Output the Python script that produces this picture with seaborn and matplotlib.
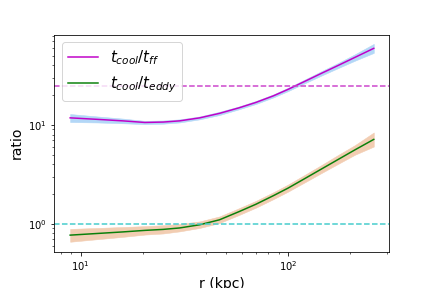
import numpy as np
import pandas as pd
import matplotlib
matplotlib.use("Agg")
import matplotlib.pyplot as plt
import seaborn as sns

# radii (kpc) and profile values
r_kpc = [8.9, 12, 16, 20.4, 25, 30, 37.5, 46.7, 58, 70, 85, 100, 120, 145, 175, 210, 259]

ratio_ff = [11.8, 11.4, 11.0, 10.6, 10.7, 11.0, 11.8, 13.1, 14.9, 16.9, 19.7, 22.9,
            27.5, 33.3, 40.1, 48.2, 59.5]
ff_lo = [10.7, 10.6, 10.4, 10.2, 10.3, 10.6, 11.4, 12.6, 14.4, 16.3, 19.0, 22.0,
         26.3, 31.6, 37.7, 44.6, 53.5]
ff_hi = [12.9, 12.2, 11.6, 11.0, 11.1, 11.4, 12.2, 13.6, 15.4, 17.5, 20.4, 23.8,
         28.7, 35.0, 42.5, 51.8, 66.0]

ratio_eddy = [0.77, 0.80, 0.83, 0.86, 0.88, 0.91, 0.98, 1.10, 1.33, 1.58, 1.93, 2.30,
              2.86, 3.59, 4.50, 5.60, 7.15]
eddy_lo = [0.66, 0.70, 0.74, 0.78, 0.80, 0.84, 0.91, 1.02, 1.23, 1.46, 1.78, 2.12,
           2.62, 3.27, 4.06, 5.00, 6.05]
eddy_hi = [0.89, 0.91, 0.93, 0.95, 0.97, 1.00, 1.06, 1.19, 1.44, 1.71, 2.09, 2.50,
           3.12, 3.94, 5.00, 6.25, 8.40]

ff_level = 25.0
eddy_level = 1.0

df = pd.DataFrame({"r": r_kpc, "ff": ratio_ff, "eddy": ratio_eddy})

fig = plt.figure(figsize=(6, 4), dpi=72)
ax = fig.add_axes([0.125, 0.125, 0.775, 0.755])

# scatter bands
ax.fill_between(df["r"], ff_lo, ff_hi, color="#b3d7f7", lw=0.5)
ax.fill_between(df["r"], eddy_lo, eddy_hi, color="#f2cdb2", lw=0.5)

sns.lineplot(data=df, x="r", y="ff", ax=ax, color="#c000c8", lw=1.5,
             label=r"$t_{cool}/t_{ff}$")
sns.lineplot(data=df, x="r", y="eddy", ax=ax, color="#0a800a", lw=1.5,
             label=r"$t_{cool}/t_{eddy}$")

# reference levels
ax.axhline(ff_level, color="#cc44cc", ls="--", lw=1.5)
ax.axhline(eddy_level, color="#44cccc", ls="--", lw=1.5)

ax.set_xscale("log")
ax.set_yscale("log")
ax.set_xlim(7.44, 306)
ax.set_ylim(0.52, 82)

ax.set_xlabel("r (kpc)", fontsize=14)
ax.set_ylabel("ratio", fontsize=14)
ax.tick_params(labelsize=10)

ax.legend(loc="upper left", fontsize=15, handlelength=2.0)

fig.savefig("out.png", dpi=72)
